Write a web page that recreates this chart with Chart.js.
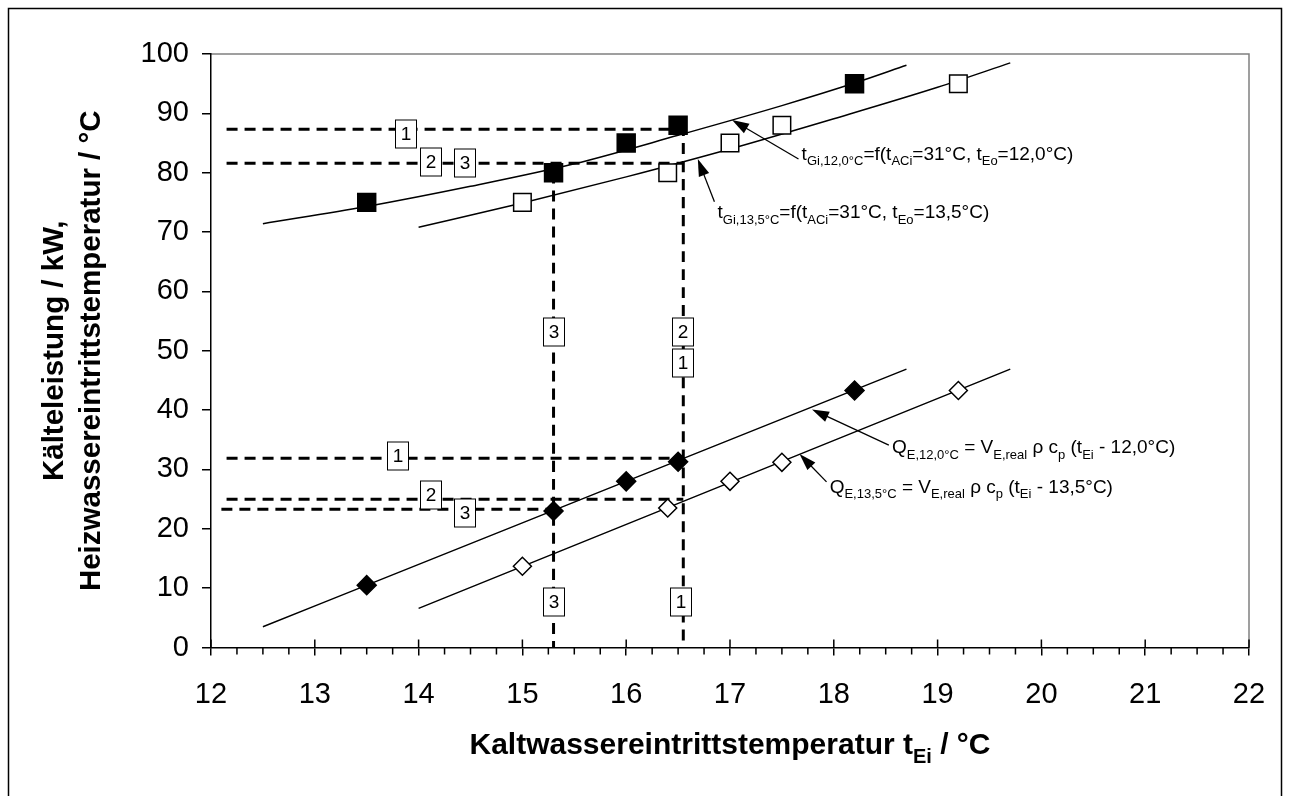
<!DOCTYPE html>
<html>
<head>
<meta charset="utf-8">
<script src="https://cdn.jsdelivr.net/npm/chart.js@4"></script>
<style>
  html, body { margin: 0; padding: 0; background: #fff; }
  #wrap { width: 1290px; height: 796px; }
</style>
</head>
<body>
<div id="wrap"><canvas id="chart" width="1290" height="796"></canvas></div>
<script>
// Achsen
const xMin = 12, xMax = 22, xStep = 1;
const yMin = 0, yMax = 100, yStep = 10;

// Heizwassereintrittstemperatur (Quadrate)
const sqFilledX = [13.5, 15.3, 16.0, 16.5, 18.2];
const sqFilledY = [75, 80, 85, 88, 95];
const sqOpenX = [15.0, 16.4, 17.0, 17.5, 19.2];
const sqOpenY = [75, 80, 85, 88, 95];

// Kälteleistung (Rauten)
const diaFilledX = [13.5, 15.3, 16.0, 16.5, 18.2];
const diaFilledY = [10.5, 23.0, 28.0, 31.3, 43.3];
const diaOpenX = [15.0, 16.4, 17.0, 17.5, 19.2];
const diaOpenY = [13.7, 23.5, 28.0, 31.2, 43.3];

// Ausgleichskurven
const fitG12X = [12.5, 13.5, 14.5, 15.5, 16.5, 17.5, 18.2, 18.7];
const fitG12Y = [71.4, 74.3, 77.7, 81.5, 86.3, 91.3, 95.1, 98.1];
const fitG135X = [14.0, 15.0, 16.0, 17.0, 18.0, 19.0, 19.7];
const fitG135Y = [70.8, 74.9, 79.3, 84.0, 89.1, 94.4, 98.5];
const fitQ12X = [12.5, 18.7];
const fitQ12Y = [3.5, 46.9];
const fitQ135X = [14.0, 19.7];
const fitQ135Y = [6.6, 46.9];

// gestrichelte Hilfslinien
const dashLinesX = [[12.15, 16.55], [12.15, 16.55], [15.3, 15.3], [16.55, 16.55], [12.15, 16.55], [12.15, 16.55], [12.1, 15.3]];
const dashLinesY = [[87.3, 87.3], [81.6, 81.6], [80, 0], [88, 0], [31.9, 31.9], [25.0, 25.0], [23.3, 23.3]];

// Nummern in Kästchen
const boxText = ['1', '2', '3', '3', '2', '1', '1', '2', '3', '3', '1'];
const boxX = [13.88, 14.12, 14.45, 15.3, 16.55, 16.55, 13.8, 14.12, 14.45, 15.3, 16.53];
const boxY = [86.5, 81.8, 81.6, 53.1, 53.1, 47.9, 32.3, 25.7, 22.6, 7.6, 7.6];

// Beschriftungen mit Pfeil: [Text, 'n' normal | 's' tiefgestellt]
const noteParts = [
  [['t', 'n'], ['Gi,12,0°C', 's'], ['=f(t', 'n'], ['ACi', 's'], ['=31°C, t', 'n'], ['Eo', 's'], ['=12,0°C)', 'n']],
  [['t', 'n'], ['Gi,13,5°C', 's'], ['=f(t', 'n'], ['ACi', 's'], ['=31°C, t', 'n'], ['Eo', 's'], ['=13,5°C)', 'n']],
  [['Q', 'n'], ['E,12,0°C', 's'], [' = V', 'n'], ['E,real', 's'], [' ρ c', 'n'], ['p', 's'], [' (t', 'n'], ['Ei', 's'], [' - 12,0°C)', 'n']],
  [['Q', 'n'], ['E,13,5°C', 's'], [' = V', 'n'], ['E,real', 's'], [' ρ c', 'n'], ['p', 's'], [' (t', 'n'], ['Ei', 's'], [' - 13,5°C)', 'n']]
];
const noteX = [17.69, 16.88, 18.56, 17.96];
const noteY = [82.2, 72.4, 32.7, 26.1];
const arrowFromX = [17.66, 16.85, 18.53, 17.93];
const arrowFromY = [82.3, 75.1, 34.1, 27.9];
const arrowToX = [17.02, 16.69, 17.79, 17.67];
const arrowToY = [88.9, 82.3, 40.1, 32.6];

const xTitle = [['Kaltwassereintrittstemperatur t', 'n'], ['Ei', 's'], [' / °C', 'n']];
const yTitle1 = 'Kälteleistung / kW,';
const yTitle2 = 'Heizwassereintrittstemperatur / °C';

const FONT = '"Liberation Sans", Arial, sans-serif';

function pts(xs, ys) {
    return xs.map((x, i) => ({ x: x, y: ys[i] }));
}

function drawRich(ctx, parts, x, y, size, subSize, bold) {
    let cx = x;
    parts.forEach(p => {
        const sub = p[1] === 's';
        ctx.font = (bold ? 'bold ' : '') + (sub ? subSize : size) + 'px ' + FONT;
        ctx.fillText(p[0], cx, sub ? y + size * 0.3 : y);
        cx += ctx.measureText(p[0]).width;
    });
    return cx - x;
}

function richWidth(ctx, parts, size, subSize, bold) {
    let w = 0;
    parts.forEach(p => {
        ctx.font = (bold ? 'bold ' : '') + (p[1] === 's' ? subSize : size) + 'px ' + FONT;
        w += ctx.measureText(p[0]).width;
    });
    return w;
}

const decor = {
    id: 'decor',
    beforeDraw(chart) {
        const ctx = chart.ctx;
        ctx.save();
        ctx.fillStyle = '#fff';
        ctx.fillRect(0, 0, chart.width, chart.height);
        ctx.strokeStyle = '#000';
        ctx.lineWidth = 1.5;
        ctx.strokeRect(8.5, 8.5, 1273, 820);
        // Rahmen der Zeichenfläche (grau, oben und rechts)
        const a = chart.chartArea;
        ctx.strokeStyle = '#808080';
        ctx.lineWidth = 1.5;
        ctx.beginPath();
        ctx.moveTo(a.left, a.top);
        ctx.lineTo(a.right, a.top);
        ctx.lineTo(a.right, a.bottom);
        ctx.stroke();
        ctx.restore();
    },
    afterDraw(chart) {
        const ctx = chart.ctx;
        const xs = chart.scales.x, ys = chart.scales.y;
        const a = chart.chartArea;
        ctx.save();
        ctx.strokeStyle = '#000';
        ctx.fillStyle = '#000';
        ctx.lineWidth = 1.5;

        // Teilstriche x: Haupt nach oben, Neben nach unten
        ctx.beginPath();
        xs.ticks.forEach(t => {
            const px = xs.getPixelForValue(t.value);
            ctx.moveTo(px, a.bottom - 8);
            ctx.lineTo(px, a.bottom);
            if (t.value < xMax) {
                for (let k = 1; k < 4; k++) {
                    const mx = xs.getPixelForValue(t.value + k * 0.25);
                    ctx.moveTo(mx, a.bottom);
                    ctx.lineTo(mx, a.bottom + 7);
                }
            }
        });
        ctx.stroke();

        // Kästchen
        ctx.lineWidth = 1;
        ctx.font = '19px ' + FONT;
        ctx.textAlign = 'center';
        ctx.textBaseline = 'middle';
        boxText.forEach((t, i) => {
            const px = Math.round(xs.getPixelForValue(boxX[i]));
            const py = Math.round(ys.getPixelForValue(boxY[i]));
            ctx.fillStyle = '#fff';
            ctx.fillRect(px - 10.5, py - 14, 21, 28);
            ctx.strokeRect(px - 10.5, py - 14, 21, 28);
            ctx.fillStyle = '#000';
            ctx.fillText(t, px, py + 1);
        });

        // Pfeile
        ctx.lineWidth = 1.3;
        arrowFromX.forEach((fx, i) => {
            const x1 = xs.getPixelForValue(fx), y1 = ys.getPixelForValue(arrowFromY[i]);
            const x2 = xs.getPixelForValue(arrowToX[i]), y2 = ys.getPixelForValue(arrowToY[i]);
            const ang = Math.atan2(y2 - y1, x2 - x1);
            ctx.beginPath();
            ctx.moveTo(x1, y1);
            ctx.lineTo(x2 - 10 * Math.cos(ang), y2 - 10 * Math.sin(ang));
            ctx.stroke();
            ctx.beginPath();
            ctx.moveTo(x2, y2);
            ctx.lineTo(x2 - 17 * Math.cos(ang) + 5.5 * Math.sin(ang), y2 - 17 * Math.sin(ang) - 5.5 * Math.cos(ang));
            ctx.lineTo(x2 - 17 * Math.cos(ang) - 5.5 * Math.sin(ang), y2 - 17 * Math.sin(ang) + 5.5 * Math.cos(ang));
            ctx.closePath();
            ctx.fill();
        });

        // Beschriftungen
        ctx.textAlign = 'left';
        ctx.textBaseline = 'alphabetic';
        noteParts.forEach((parts, i) => {
            drawRich(ctx, parts, xs.getPixelForValue(noteX[i]), ys.getPixelForValue(noteY[i]), 19, 13, false);
        });

        // Achsentitel
        const w = richWidth(ctx, xTitle, 30, 20, true);
        drawRich(ctx, xTitle, (a.left + a.right) / 2 - w / 2, 754, 30, 20, true);

        ctx.font = 'bold 29.5px ' + FONT;
        ctx.textAlign = 'center';
        ctx.textBaseline = 'middle';
        const cy = (a.top + a.bottom) / 2;
        ctx.translate(55, cy);
        ctx.rotate(-Math.PI / 2);
        ctx.fillText(yTitle1, 0, 0);
        ctx.fillText(yTitle2, 0, 37);
        ctx.restore();
    }
};

function lineSet(data, dashed, order) {
    return {
        data: data,
        showLine: true,
        pointRadius: 0,
        borderColor: '#000',
        borderWidth: dashed ? 3 : 1.5,
        borderDash: dashed ? [11, 7] : [],
        tension: 0.4,
        cubicInterpolationMode: 'monotone',
        order: order
    };
}

function markerSet(data, style, filled, r) {
    return {
        data: data,
        showLine: false,
        pointStyle: style,
        pointRadius: r,
        pointBackgroundColor: filled ? '#000' : '#fff',
        pointBorderColor: '#000',
        pointBorderWidth: 1.5,
        order: 0
    };
}

const datasets = [
    markerSet(pts(sqFilledX, sqFilledY), 'rect', true, 12.7),
    markerSet(pts(sqOpenX, sqOpenY), 'rect', false, 12.4),
    markerSet(pts(diaFilledX, diaFilledY), 'rectRot', true, 9.5),
    markerSet(pts(diaOpenX, diaOpenY), 'rectRot', false, 9),
    lineSet(pts(fitG12X, fitG12Y), false, 1),
    lineSet(pts(fitG135X, fitG135Y), false, 1),
    lineSet(pts(fitQ12X, fitQ12Y), false, 1),
    lineSet(pts(fitQ135X, fitQ135Y), false, 1)
];
dashLinesX.forEach((xs, i) => datasets.push(lineSet(pts(xs, dashLinesY[i]), true, 2)));

new Chart(document.getElementById('chart'), {
    type: 'scatter',
    data: { datasets: datasets },
    options: {
        responsive: false,
        animation: false,
        layout: { padding: { left: 0, top: 54, right: 41, bottom: 0 } },
        plugins: { legend: { display: false }, tooltip: { enabled: false } },
        scales: {
            x: {
                type: 'linear',
                min: xMin, max: xMax,
                afterFit: s => { s.height = 148.5; },
                ticks: { stepSize: xStep, color: '#000', font: { size: 29, family: FONT }, padding: 22, maxRotation: 0 },
                grid: { drawOnChartArea: false, drawTicks: true, tickLength: 8, color: '#000', lineWidth: 1.5 },
                border: { color: '#000', width: 1.5 }
            },
            y: {
                type: 'linear',
                min: yMin, max: yMax,
                afterFit: s => { s.width = 211; },
                ticks: { stepSize: yStep, color: '#000', font: { size: 29, family: FONT }, padding: 13 },
                grid: { drawOnChartArea: false, drawTicks: true, tickLength: 9, color: '#000', lineWidth: 1.5 },
                border: { color: '#000', width: 1.5 }
            }
        }
    },
    plugins: [decor]
});
</script>
</body>
</html>
